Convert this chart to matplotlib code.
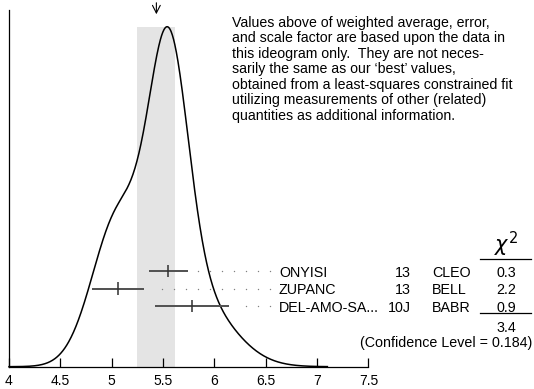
import matplotlib
matplotlib.use("Agg")
import matplotlib.pyplot as plt
import numpy as np

plt.rcParams['font.family'] = ['Liberation Sans', 'DejaVu Sans']

authors = ['ONYISI', 'ZUPANC', 'DEL-AMO-SA...']
years = ['13', '13', '10J']
expts = ['CLEO', 'BELL', 'BABR']
values = [5.55, 5.06, 5.78]
errors = [0.19, 0.255, 0.36]
chi2 = ['0.3', '2.2', '0.9']
chi2_total = '3.4'
conf_level = '0.184'

# weighted average and scaled error
avg = 5.435
avg_err = 0.185

xticks = [4, 4.5, 5, 5.5, 6, 6.5, 7, 7.5]

note = ["Values above of weighted average, error,",
        "and scale factor are based upon the data in",
        "this ideogram only.  They are not neces-",
        "sarily the same as our \u2018best\u2019 values,",
        "obtained from a least-squares constrained fit",
        "utilizing measurements of other (related)",
        "quantities as additional information."]

# pixel <-> data helpers (layout only)
W, H = 534, 389
x0px, xscale = 9, 102.7
y0px, yscale = 366.7, 340.0


def px(p):
    return 4 + (p - x0px) / xscale


def py(p):
    return (y0px - p) / yscale


fig = plt.figure(figsize=(5.34, 3.89), dpi=100)
ax = fig.add_axes([0, 0, 1, 1])
ax.set_xlim(px(0), px(W))
ax.set_ylim(py(H), py(0))

# ideogram: sum of gaussians, area ~ 1/sigma
xs = np.linspace(4, 7.1, 800)
ys = np.zeros_like(xs)
for v, e in zip(values, errors):
    ys += (1 / e**2) * np.exp(-(xs - v)**2 / (2 * e**2))
ys /= ys.max()

ax.fill_between([avg - avg_err, avg + avg_err], 0, 1.0, color='#e4e4e4', lw=0, zorder=0)
ax.plot(xs, ys, color='black', lw=1.1, zorder=3)

# arrow marking the average
ax.annotate('', xy=(avg, py(17)), xytext=(avg, py(0)),
            arrowprops=dict(arrowstyle='->,head_length=0.55,head_width=0.28',
                            lw=0.8, color='black'))

# error bars, dotted leaders and labels
rows = [py(271), py(288.5), py(306)]
tick_h = 6.3 / yscale
dot_end, dot_step = px(270), 12 / xscale
for i, (v, e) in enumerate(zip(values, errors)):
    y = rows[i]
    ax.hlines(y, v - e, v + e, color='#505050', lw=1.4, zorder=4)
    ax.vlines(v, y - tick_h, y + tick_h, color='#303030', lw=1.1, zorder=4)
    dots = []
    d = dot_end
    while d > v + e + 10 / xscale:
        dots.append(d)
        d -= dot_step
    ax.plot(dots, [y] * len(dots), ls='none', marker='o', ms=1.0,
            color='#808080', mec='none')
    yb = y - 6 / yscale
    ax.text(px(279), yb, authors[i], fontsize=10.3, va='baseline', ha='left')
    ax.text(px(411), yb, years[i], fontsize=10.3, va='baseline', ha='right')
    ax.text(px(432), yb, expts[i], fontsize=10.3, va='baseline', ha='left')
    ax.text(px(506), yb, chi2[i], fontsize=10.3, va='baseline', ha='center')

# chi2 column
ax.text(px(506), py(252), r'$\chi^2$', fontsize=15, va='baseline', ha='center')
ax.plot([px(480), px(531)], [py(258.7)] * 2, color='black', lw=0.9)
ax.plot([px(480), px(531)], [py(313)] * 2, color='black', lw=0.9)
ax.text(px(506), py(332.5), chi2_total, fontsize=10.3, va='baseline', ha='center')
ax.text(px(532), py(347), '(Confidence Level = %s)' % conf_level,
        fontsize=10.3, va='baseline', ha='right')

# explanatory note
for k, line in enumerate(note):
    ax.text(px(232.5), py(26.5 + 15.5 * k), line, fontsize=10.2,
            va='baseline', ha='left')

# axes
for s in ['top', 'right']:
    ax.spines[s].set_visible(False)
ax.spines['left'].set_position(('data', 4))
ax.spines['left'].set_bounds(0, py(10))
ax.spines['bottom'].set_position(('data', 0))
ax.spines['bottom'].set_bounds(4, 7.5)
for s in ['left', 'bottom']:
    ax.spines[s].set_linewidth(0.9)
ax.set_yticks([])
ax.set_xticks(xticks, labels=['%g' % t for t in xticks])
ax.tick_params(axis='x', direction='in', length=6.8, width=0.9, pad=5.5, labelsize=10)

fig.savefig('out.png', dpi=100)
